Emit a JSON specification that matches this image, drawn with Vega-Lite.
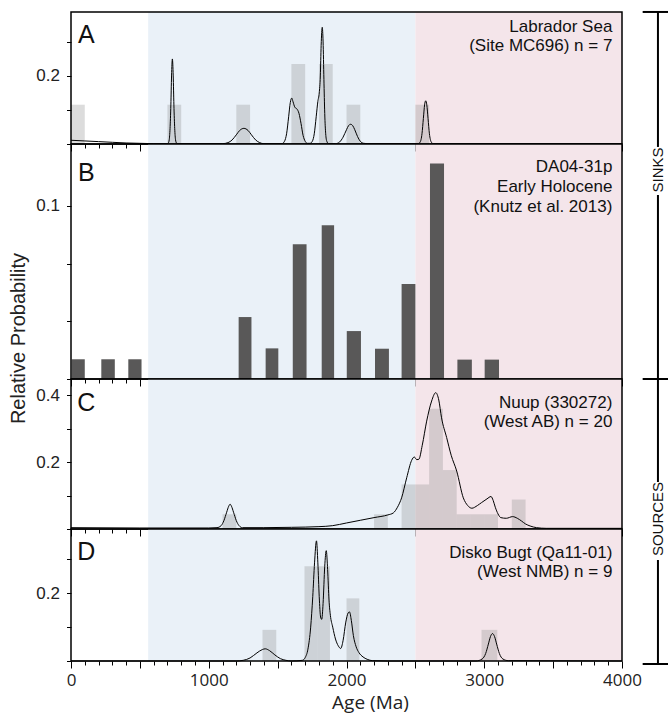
{
"$schema": "https://vega.github.io/schema/vega-lite/v6.json",
"padding": {"left": 8, "top": 10, "right": 0, "bottom": 54},
"bounds": "flush",
"spacing": 0,
"datasets": {
 "eras": [{"start": 560, "end": 2500, "era": "Proterozoic"}, {"start": 2500, "end": 4000, "era": "Archean"}],
 "histA": [{"x1":0,"x2":100,"p":0.1155},{"x1":700,"x2":800,"p":0.1155},{"x1":1200,"x2":1300,"p":0.1155},{"x1":1600,"x2":1700,"p":0.235},{"x1":1800,"x2":1900,"p":0.235},{"x1":2000,"x2":2100,"p":0.1155},{"x1":2500,"x2":2600,"p":0.1155}],
 "kdeA": [{"age":0,"p":0.011},{"age":100,"p":0.009},{"age":200,"p":0.007},{"age":300,"p":0.005},{"age":400,"p":0.003},{"age":500,"p":0.002},{"age":600,"p":0.001},{"age":695,"p":0.0008},{"age":706,"p":0.003},{"age":713,"p":0.012},{"age":719,"p":0.045},{"age":725,"p":0.115},{"age":730,"p":0.2},{"age":736,"p":0.25},{"age":742,"p":0.2},{"age":747,"p":0.115},{"age":753,"p":0.045},{"age":759,"p":0.012},{"age":766,"p":0.003},{"age":780,"p":0.001},{"age":1100,"p":0.001},{"age":1140,"p":0.004},{"age":1170,"p":0.012},{"age":1200,"p":0.027},{"age":1225,"p":0.04},{"age":1255,"p":0.046},{"age":1285,"p":0.04},{"age":1310,"p":0.027},{"age":1340,"p":0.012},{"age":1370,"p":0.004},{"age":1400,"p":0.001},{"age":1530,"p":0.001},{"age":1550,"p":0.008},{"age":1565,"p":0.03},{"age":1580,"p":0.08},{"age":1592,"p":0.122},{"age":1602,"p":0.135},{"age":1612,"p":0.124},{"age":1625,"p":0.108},{"age":1640,"p":0.103},{"age":1655,"p":0.09},{"age":1670,"p":0.06},{"age":1685,"p":0.025},{"age":1700,"p":0.008},{"age":1715,"p":0.002},{"age":1735,"p":0.002},{"age":1752,"p":0.008},{"age":1766,"p":0.03},{"age":1780,"p":0.08},{"age":1792,"p":0.125},{"age":1802,"p":0.15},{"age":1810,"p":0.2},{"age":1816,"p":0.29},{"age":1824,"p":0.343},{"age":1830,"p":0.3},{"age":1836,"p":0.19},{"age":1842,"p":0.09},{"age":1849,"p":0.03},{"age":1857,"p":0.008},{"age":1870,"p":0.001},{"age":1920,"p":0.001},{"age":1950,"p":0.006},{"age":1975,"p":0.02},{"age":2000,"p":0.042},{"age":2015,"p":0.054},{"age":2030,"p":0.058},{"age":2045,"p":0.054},{"age":2060,"p":0.042},{"age":2080,"p":0.022},{"age":2100,"p":0.008},{"age":2125,"p":0.002},{"age":2150,"p":0.001},{"age":2520,"p":0.001},{"age":2535,"p":0.006},{"age":2548,"p":0.03},{"age":2558,"p":0.075},{"age":2567,"p":0.115},{"age":2575,"p":0.127},{"age":2583,"p":0.115},{"age":2592,"p":0.075},{"age":2602,"p":0.03},{"age":2615,"p":0.006},{"age":2630,"p":0.001},{"age":4000,"p":0.001}],
 "barsB": [{"x1":5,"x2":100,"p":0.0114},{"x1":220,"x2":318,"p":0.0114},{"x1":416,"x2":512,"p":0.0114},{"x1":1217,"x2":1310,"p":0.0358},{"x1":1413,"x2":1505,"p":0.0177},{"x1":1610,"x2":1710,"p":0.0779},{"x1":1820,"x2":1910,"p":0.0888},{"x1":2002,"x2":2105,"p":0.0277},{"x1":2207,"x2":2308,"p":0.0175},{"x1":2400,"x2":2500,"p":0.0549},{"x1":2606,"x2":2708,"p":0.1245},{"x1":2805,"x2":2910,"p":0.0112},{"x1":3003,"x2":3107,"p":0.0112}],
 "histC": [{"x1":1100,"x2":1200,"p":0.044},{"x1":2200,"x2":2300,"p":0.044},{"x1":2400,"x2":2500,"p":0.133},{"x1":2500,"x2":2600,"p":0.133},{"x1":2600,"x2":2700,"p":0.359},{"x1":2700,"x2":2800,"p":0.176},{"x1":2800,"x2":2900,"p":0.044},{"x1":2900,"x2":3000,"p":0.044},{"x1":3000,"x2":3100,"p":0.044},{"x1":3200,"x2":3300,"p":0.088}],
 "kdeC": [{"age":0,"p":0.004},{"age":500,"p":0.003},{"age":1000,"p":0.003},{"age":1060,"p":0.004},{"age":1090,"p":0.01},{"age":1110,"p":0.025},{"age":1130,"p":0.05},{"age":1145,"p":0.068},{"age":1155,"p":0.074},{"age":1165,"p":0.068},{"age":1180,"p":0.05},{"age":1200,"p":0.025},{"age":1220,"p":0.01},{"age":1245,"p":0.004},{"age":1400,"p":0.004},{"age":1600,"p":0.005},{"age":1800,"p":0.007},{"age":1900,"p":0.01},{"age":2000,"p":0.018},{"age":2100,"p":0.026},{"age":2200,"p":0.034},{"age":2300,"p":0.042},{"age":2340,"p":0.048},{"age":2370,"p":0.065},{"age":2400,"p":0.093},{"age":2437,"p":0.153},{"age":2473,"p":0.205},{"age":2492,"p":0.215},{"age":2510,"p":0.207},{"age":2525,"p":0.208},{"age":2550,"p":0.25},{"age":2582,"p":0.322},{"age":2618,"p":0.382},{"age":2648,"p":0.407},{"age":2670,"p":0.385},{"age":2690,"p":0.332},{"age":2727,"p":0.273},{"age":2760,"p":0.22},{"age":2800,"p":0.173},{"age":2848,"p":0.093},{"age":2880,"p":0.07},{"age":2910,"p":0.062},{"age":2950,"p":0.07},{"age":2981,"p":0.079},{"age":3020,"p":0.09},{"age":3049,"p":0.097},{"age":3065,"p":0.085},{"age":3080,"p":0.065},{"age":3100,"p":0.045},{"age":3120,"p":0.034},{"age":3160,"p":0.032},{"age":3206,"p":0.037},{"age":3240,"p":0.032},{"age":3270,"p":0.024},{"age":3300,"p":0.015},{"age":3333,"p":0.009},{"age":3380,"p":0.004},{"age":3450,"p":0.002},{"age":4000,"p":0.002}],
 "histD": [{"x1":1390,"x2":1490,"p":0.092},{"x1":1695,"x2":1790,"p":0.28},{"x1":1790,"x2":1880,"p":0.28},{"x1":2000,"x2":2093,"p":0.185},{"x1":2980,"x2":3095,"p":0.092}],
 "kdeD": [{"age":0,"p":0},{"age":1200,"p":0},{"age":1250,"p":0.002},{"age":1300,"p":0.009},{"age":1350,"p":0.024},{"age":1390,"p":0.034},{"age":1410,"p":0.036},{"age":1440,"p":0.031},{"age":1480,"p":0.018},{"age":1520,"p":0.007},{"age":1560,"p":0.002},{"age":1600,"p":0},{"age":1680,"p":0.002},{"age":1700,"p":0.01},{"age":1720,"p":0.035},{"age":1740,"p":0.1},{"age":1755,"p":0.19},{"age":1768,"p":0.29},{"age":1782,"p":0.355},{"age":1792,"p":0.29},{"age":1802,"p":0.19},{"age":1812,"p":0.13},{"age":1820,"p":0.123},{"age":1830,"p":0.17},{"age":1842,"p":0.28},{"age":1853,"p":0.326},{"age":1863,"p":0.27},{"age":1873,"p":0.18},{"age":1883,"p":0.135},{"age":1900,"p":0.1},{"age":1920,"p":0.065},{"age":1940,"p":0.045},{"age":1958,"p":0.037},{"age":1975,"p":0.06},{"age":1995,"p":0.115},{"age":2012,"p":0.142},{"age":2022,"p":0.145},{"age":2035,"p":0.12},{"age":2050,"p":0.075},{"age":2070,"p":0.042},{"age":2090,"p":0.025},{"age":2120,"p":0.012},{"age":2150,"p":0.005},{"age":2190,"p":0.001},{"age":2300,"p":0},{"age":2940,"p":0},{"age":2985,"p":0.006},{"age":3010,"p":0.022},{"age":3030,"p":0.05},{"age":3045,"p":0.072},{"age":3060,"p":0.081},{"age":3075,"p":0.072},{"age":3090,"p":0.05},{"age":3110,"p":0.022},{"age":3135,"p":0.006},{"age":3175,"p":0.001},{"age":4000,"p":0}]
},
"config": {
 "view": {"stroke": null},
 "font": "Liberation Sans",
 "axis": {"domain": false, "grid": false, "tickColor": "black", "tickWidth": 1, "labelColor": "#222", "titleColor": "#222", "titleFontWeight": "normal"},
 "axisY": {"tickSize": 4.5, "labelPadding": 7, "labelFontSize": 17, "labelFont": "Liberation Sans", "labelOverlap": false},
 "axisX": {"labelFlush": false, "labelOverlap": false, "tickCount": 40, "tickSize": 4, "title": null}
},
"vconcat": [
 {
  "width": 551, "height": 132,
  "encoding": {
   "x": {"type": "quantitative", "scale": {"domain": [0, 4000], "nice": false}, "axis": {"labels": false, "title": null, "tickSize": {"condition": {"test": "datum.value % 500 === 0", "value": 7}, "value": 4}}},
   "y": {"type": "quantitative", "scale": {"domain": [0, 0.388], "nice": false}, "axis": {"values": [0, 0.1, 0.2, 0.3], "labelExpr": "datum.value == 0.2 ? '0.2' : ''", "title": null}}
  },
  "layer": [
   {"data": {"name": "eras"}, "mark": {"type": "rect"},
    "encoding": {"x": {"field": "start"}, "x2": {"field": "end"}, "y": null,
     "color": {"field": "era", "type": "nominal", "scale": {"domain": ["Proterozoic", "Archean"], "range": ["#eaf1f8", "#f4e5ea"]}, "legend": null}}},
   {"data": {"name": "histA"}, "mark": {"type": "rect", "fill": "#8a8a8a", "opacity": 0.3},
    "encoding": {"x": {"field": "x1"}, "x2": {"field": "x2"}, "y": {"field": "p"}, "y2": {"datum": 0}}},
   {"data": {"name": "kdeA"}, "mark": {"type": "line", "color": "black", "strokeWidth": 1, "interpolate": "monotone"},
    "encoding": {"x": {"field": "age"}, "y": {"field": "p"}}},
   {"data": {"values": [{}]}, "mark": {"type": "rect", "filled": false, "stroke": "black", "strokeWidth": 1.5},
    "encoding": {"x": {"datum": 0}, "x2": {"datum": 4000}, "y": null}},
   {"data": {"values": [{}]}, "mark": {"type": "text", "text": "A", "align": "left", "baseline": "alphabetic", "fontSize": 25, "font": "Liberation Sans", "color": "#111"},
    "encoding": {"x": {"datum": 50}, "y": {"datum": 0.296}}},
   {"data": {"values": [{}]}, "mark": {"type": "text", "text": ["Labrador Sea", "(Site MC696) n = 7"], "lineHeight": 19, "align": "right", "baseline": "alphabetic", "fontSize": 17, "font": "Liberation Sans", "color": "#111"},
    "encoding": {"x": {"datum": 3930}, "y": {"datum": 0.3294}}}
  ]
 },
 {
  "width": 551, "height": 235,
  "encoding": {
   "x": {"type": "quantitative", "scale": {"domain": [0, 4000], "nice": false}, "axis": {"labels": false, "title": null, "tickSize": {"condition": {"test": "datum.value % 500 === 0", "value": 7}, "value": 4}}},
   "y": {"type": "quantitative", "scale": {"domain": [0, 0.1358], "nice": false}, "axis": {"values": [0, 0.033333, 0.066667, 0.1], "labelExpr": "datum.value == 0.1 ? '0.1' : ''", "title": "Relative Probability", "titleFontSize": 20, "titleFont": "Liberation Sans", "titleX": -47, "titleY": 194, "titleAngle": -90, "titleAlign": "center", "titleBaseline": "alphabetic"}}
  },
  "layer": [
   {"data": {"name": "eras"}, "mark": {"type": "rect"},
    "encoding": {"x": {"field": "start"}, "x2": {"field": "end"}, "y": null,
     "color": {"field": "era", "type": "nominal", "scale": {"domain": ["Proterozoic", "Archean"], "range": ["#eaf1f8", "#f4e5ea"]}, "legend": null}}},
   {"data": {"name": "barsB"}, "mark": {"type": "rect", "fill": "#595858"},
    "encoding": {"x": {"field": "x1"}, "x2": {"field": "x2"}, "y": {"field": "p"}, "y2": {"datum": 0}}},
   {"data": {"values": [{}]}, "mark": {"type": "rect", "filled": false, "stroke": "black", "strokeWidth": 1.5},
    "encoding": {"x": {"datum": 0}, "x2": {"datum": 4000}, "y": null}},
   {"data": {"values": [{}]}, "mark": {"type": "text", "text": "B", "align": "left", "baseline": "alphabetic", "fontSize": 25, "font": "Liberation Sans", "color": "#111"},
    "encoding": {"x": {"datum": 50}, "y": {"datum": 0.1145}}},
   {"data": {"values": [{}]}, "mark": {"type": "text", "text": ["DA04-31p", "Early Holocene", "(Knutz et al. 2013)"], "lineHeight": 20, "align": "right", "baseline": "alphabetic", "fontSize": 17, "font": "Liberation Sans", "color": "#111"},
    "encoding": {"x": {"datum": 3930}, "y": {"datum": 0.1194}}},
   {"data": {"values": [{"y1": 0.2121, "y2": 0.1341}, {"y1": 0.1064, "y2": -0.0595}, {"y1": -0.1046, "y2": -0.1647}]}, "mark": {"type": "rule", "color": "black", "strokeWidth": 2},
    "encoding": {"x": {"datum": 4261}, "y": {"field": "y1"}, "y2": {"field": "y2"}}},
   {"data": {"values": [{"y": 0.2121}, {"y": 0}, {"y": -0.1647}]}, "mark": {"type": "rule", "color": "black", "strokeWidth": 2},
    "encoding": {"x": {"datum": 4150}, "x2": {"datum": 4340}, "y": {"field": "y"}}},
   {"data": {"values": [{"label": "SINKS", "y": 0.1208}, {"label": "SOURCES", "y": -0.0809}]}, "mark": {"type": "text", "angle": 270, "align": "center", "baseline": "middle", "fontSize": 15, "font": "Liberation Sans", "color": "#111"},
    "encoding": {"x": {"datum": 4261}, "y": {"field": "y"}, "text": {"field": "label"}}}
  ]
 },
 {
  "width": 551, "height": 150,
  "encoding": {
   "x": {"type": "quantitative", "scale": {"domain": [0, 4000], "nice": false}, "axis": {"labels": false, "title": null, "tickSize": {"condition": {"test": "datum.value % 500 === 0", "value": 7}, "value": 4}}},
   "y": {"type": "quantitative", "scale": {"domain": [0, 0.4478], "nice": false}, "axis": {"values": [0, 0.1, 0.2, 0.3, 0.4], "labelExpr": "(datum.value == 0.2 || datum.value == 0.4) ? datum.label : ''", "title": null}}
  },
  "layer": [
   {"data": {"name": "eras"}, "mark": {"type": "rect"},
    "encoding": {"x": {"field": "start"}, "x2": {"field": "end"}, "y": null,
     "color": {"field": "era", "type": "nominal", "scale": {"domain": ["Proterozoic", "Archean"], "range": ["#eaf1f8", "#f4e5ea"]}, "legend": null}}},
   {"data": {"name": "histC"}, "mark": {"type": "rect", "fill": "#8a8a8a", "opacity": 0.3},
    "encoding": {"x": {"field": "x1"}, "x2": {"field": "x2"}, "y": {"field": "p"}, "y2": {"datum": 0}}},
   {"data": {"name": "kdeC"}, "mark": {"type": "line", "color": "black", "strokeWidth": 1, "interpolate": "monotone"},
    "encoding": {"x": {"field": "age"}, "y": {"field": "p"}}},
   {"data": {"values": [{}]}, "mark": {"type": "rect", "filled": false, "stroke": "black", "strokeWidth": 1.5},
    "encoding": {"x": {"datum": 0}, "x2": {"datum": 4000}, "y": null}},
   {"data": {"values": [{}]}, "mark": {"type": "text", "text": "C", "align": "left", "baseline": "alphabetic", "fontSize": 25, "font": "Liberation Sans", "color": "#111"},
    "encoding": {"x": {"datum": 45}, "y": {"datum": 0.352}}},
   {"data": {"values": [{}]}, "mark": {"type": "text", "text": ["Nuup (330272)", "(West AB) n = 20"], "lineHeight": 19, "align": "right", "baseline": "alphabetic", "fontSize": 17, "font": "Liberation Sans", "color": "#111"},
    "encoding": {"x": {"datum": 3930}, "y": {"datum": 0.3612}}}
  ]
 },
 {
  "width": 551, "height": 132,
  "encoding": {
   "x": {"type": "quantitative", "scale": {"domain": [0, 4000], "nice": false}, "axis": {"format": "d", "labelExpr": "datum.value % 1000 === 0 ? datum.label : ''", "labelOverlap": false, "labelFlush": false, "labelFont": "Open Sans", "labelFontSize": 17, "labelPadding": 4, "tickSize": {"condition": {"test": "datum.value % 500 === 0", "value": 7}, "value": 4}, "title": "Age (Ma)", "titleFont": "Open Sans", "titleFontSize": 19, "titleX": 299, "titleY": 47, "titleAlign": "center", "titleBaseline": "alphabetic"}},
   "y": {"type": "quantitative", "scale": {"domain": [0, 0.39], "nice": false}, "axis": {"values": [0, 0.1, 0.2, 0.3], "labelExpr": "datum.value == 0.2 ? '0.2' : ''", "title": null}}
  },
  "layer": [
   {"data": {"name": "eras"}, "mark": {"type": "rect"},
    "encoding": {"x": {"field": "start"}, "x2": {"field": "end"}, "y": null,
     "color": {"field": "era", "type": "nominal", "scale": {"domain": ["Proterozoic", "Archean"], "range": ["#eaf1f8", "#f4e5ea"]}, "legend": null}}},
   {"data": {"name": "histD"}, "mark": {"type": "rect", "fill": "#8a8a8a", "opacity": 0.3},
    "encoding": {"x": {"field": "x1"}, "x2": {"field": "x2"}, "y": {"field": "p"}, "y2": {"datum": 0}}},
   {"data": {"name": "kdeD"}, "mark": {"type": "line", "color": "black", "strokeWidth": 1, "interpolate": "monotone"},
    "encoding": {"x": {"field": "age"}, "y": {"field": "p"}}},
   {"data": {"values": [{}]}, "mark": {"type": "rect", "filled": false, "stroke": "black", "strokeWidth": 1.5},
    "encoding": {"x": {"datum": 0}, "x2": {"datum": 4000}, "y": null}},
   {"data": {"values": [{}]}, "mark": {"type": "text", "text": "D", "align": "left", "baseline": "alphabetic", "fontSize": 25, "font": "Liberation Sans", "color": "#111"},
    "encoding": {"x": {"datum": 45}, "y": {"datum": 0.298}}},
   {"data": {"values": [{}]}, "mark": {"type": "text", "text": ["Disko Bugt (Qa11-01)", "(West NMB) n = 9"], "lineHeight": 19, "align": "right", "baseline": "alphabetic", "fontSize": 17, "font": "Liberation Sans", "color": "#111"},
    "encoding": {"x": {"datum": 3930}, "y": {"datum": 0.3043}}}
  ]
 }
]
}
